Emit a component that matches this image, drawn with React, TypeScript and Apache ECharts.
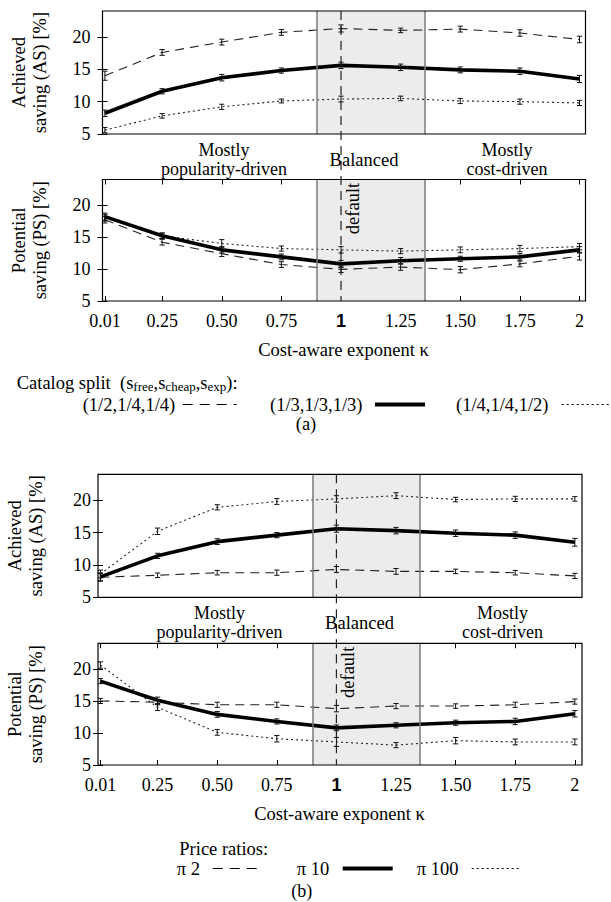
import { useEffect, useRef } from "react";
import * as echarts from "echarts";

// ---------- data ----------
const kappa = [0.01, 0.25, 0.5, 0.75, 1, 1.25, 1.5, 1.75, 2];
const kappaLabels = ["0.01", "0.25", "0.50", "0.75", "1", "1.25", "1.50", "1.75", "2"];
const yTickValues = [5, 10, 15, 20];
const yMin = 5;
const yMax = 24;
const balancedRange = [0.9, 1.35];
const defaultKappa = 1;

// (a) Catalog split
const asSplitHalf = [14.0, 17.6, 19.2, 20.7, 21.3, 21.0, 21.2, 20.6, 19.6];
const asSplitThird = [8.2, 11.6, 13.7, 14.8, 15.6, 15.3, 14.9, 14.7, 13.5];
const asSplitQuarter = [5.6, 7.8, 9.2, 10.1, 10.4, 10.5, 10.1, 10.0, 9.8];
const errAsSplitHalf = [0.7, 0.45, 0.45, 0.45, 0.55, 0.35, 0.45, 0.5, 0.5];
const errAsSplitThird = [0.5, 0.4, 0.5, 0.4, 0.5, 0.5, 0.45, 0.5, 0.55];
const errAsSplitQuarter = [0.4, 0.35, 0.4, 0.3, 0.45, 0.35, 0.4, 0.4, 0.4];

const psSplitHalf = [17.7, 14.2, 12.4, 10.7, 9.95, 10.3, 9.9, 10.8, 12.0];
const psSplitThird = [18.2, 15.2, 13.0, 11.9, 10.8, 11.3, 11.6, 11.9, 13.0];
const psSplitQuarter = [18.0, 15.2, 14.0, 13.2, 13.0, 12.8, 13.0, 13.2, 13.5];
const errPsSplitHalf = [0.5, 0.45, 0.45, 0.45, 0.5, 0.5, 0.5, 0.45, 0.6];
const errPsSplitThird = [0.55, 0.45, 0.5, 0.45, 0.55, 0.5, 0.4, 0.5, 0.5];
const errPsSplitQuarter = [0.5, 0.4, 0.6, 0.4, 0.5, 0.4, 0.45, 0.5, 0.5];

// (b) Price ratios
const asPi2 = [8.1, 8.4, 8.8, 8.8, 9.3, 9.0, 9.0, 8.8, 8.3];
const asPi10 = [8.15, 11.4, 13.6, 14.6, 15.6, 15.3, 14.9, 14.6, 13.5];
const asPi100 = [8.6, 15.2, 18.9, 19.8, 20.2, 20.7, 20.1, 20.2, 20.2];
const errAsPi2 = [0.6, 0.35, 0.35, 0.4, 0.45, 0.45, 0.35, 0.35, 0.4];
const errAsPi10 = [0.6, 0.4, 0.45, 0.4, 0.55, 0.5, 0.5, 0.5, 0.6];
const errAsPi100 = [0.6, 0.5, 0.4, 0.45, 0.5, 0.45, 0.35, 0.4, 0.35];

const psPi2 = [15.0, 14.8, 14.4, 14.4, 13.8, 14.2, 14.2, 14.4, 14.9];
const psPi10 = [18.1, 15.1, 12.9, 11.8, 10.8, 11.2, 11.6, 11.8, 13.0];
const psPi100 = [20.6, 14.0, 10.1, 9.1, 8.6, 8.1, 8.8, 8.6, 8.6];
const errPsPi2 = [0.4, 0.4, 0.4, 0.4, 0.5, 0.4, 0.35, 0.4, 0.4];
const errPsPi10 = [0.4, 0.5, 0.45, 0.4, 0.45, 0.4, 0.4, 0.5, 0.5];
const errPsPi100 = [0.5, 0.5, 0.45, 0.5, 0.7, 0.4, 0.5, 0.45, 0.45];

const legendA = ["(1/2,1/4,1/4)", "(1/3,1/3,1/3)", "(1/4,1/4,1/2)"];
const legendB = ["π 2", "π 10", "π 100"];

// ---------- styles ----------
const FONT = "'Liberation Serif', 'Times New Roman', serif";
const BOLD_FONT = "'Liberation Sans', Arial, sans-serif";
const INK = "#000";
const STYLES = {
  dashed: { width: 1.1, type: [9, 6] as number[], color: "#222" },
  solid: { width: 3.6, type: "solid" as const, color: "#000" },
  dotted: { width: 1.1, type: [2, 3] as number[], color: "#222" },
};

const grids = [
  { left: 102.5, top: 11, width: 483, height: 123 },
  { left: 102.5, top: 179.5, width: 483, height: 121.5 },
  { left: 98, top: 474.3, width: 484, height: 123 },
  { left: 98, top: 643.3, width: 484, height: 121.7 },
];
const xMaxes = [2.025, 2.025, 2.03, 2.03];
const xTicksShown = [false, true, false, true];
const yLabelMargin = [12, 12, 7, 7];

function fmtKappa(v: number) {
  let best = 0;
  for (let i = 1; i < kappa.length; i++) if (Math.abs(kappa[i] - v) < Math.abs(kappa[best] - v)) best = i;
  return kappa[best] === defaultKappa ? "{b|" + kappaLabels[best] + "}" : kappaLabels[best];
}

function errorRender(params: any, api: any) {
  const x = api.value(0);
  const lo = api.coord([x, api.value(1)]);
  const hi = api.coord([x, api.value(2)]);
  const w = 2.6;
  const style = { stroke: "#111", lineWidth: 1 };
  return {
    type: "group",
    children: [
      { type: "line", shape: { x1: lo[0], y1: lo[1], x2: hi[0], y2: hi[1] }, style },
      { type: "line", shape: { x1: lo[0] - w, y1: lo[1], x2: lo[0] + w, y2: lo[1] }, style },
      { type: "line", shape: { x1: hi[0] - w, y1: hi[1], x2: hi[0] + w, y2: hi[1] }, style },
    ],
  };
}

function buildOption() {
  const xAxis: any[] = [];
  const yAxis: any[] = [];
  grids.forEach((_, i) => {
    xAxis.push({
      type: "value",
      gridIndex: i,
      min: 0,
      max: xMaxes[i],
      position: "bottom",
      axisLine: { show: false },
      splitLine: { show: false },
      axisTick: { show: xTicksShown[i], inside: true, length: 5, customValues: kappa, lineStyle: { color: INK } },
      axisLabel: {
        show: xTicksShown[i],
        customValues: kappa,
        formatter: fmtKappa,
        margin: 11,
        fontSize: 18,
        fontFamily: FONT,
        color: INK,
        rich: { b: { fontSize: 18, fontWeight: "bold", fontFamily: BOLD_FONT, color: INK } },
      },
    });
  });
  grids.forEach((_, i) => {
    xAxis.push({
      type: "value",
      gridIndex: i,
      min: 0,
      max: xMaxes[i],
      position: "top",
      axisLine: { show: false },
      splitLine: { show: false },
      axisTick: { show: xTicksShown[i], inside: true, length: 5, customValues: kappa, lineStyle: { color: INK } },
      axisLabel: { show: false },
    });
  });
  grids.forEach((_, i) => {
    yAxis.push({
      type: "value",
      gridIndex: i,
      min: yMin,
      max: yMax,
      position: "left",
      axisLine: { show: false },
      splitLine: { show: false },
      axisTick: { show: true, inside: true, length: 5, customValues: yTickValues, lineStyle: { color: INK } },
      axisLabel: { customValues: yTickValues, margin: yLabelMargin[i], fontSize: 18, fontFamily: FONT, color: INK },
    });
  });
  grids.forEach((_, i) => {
    yAxis.push({
      type: "value",
      gridIndex: i,
      min: yMin,
      max: yMax,
      position: "right",
      axisLine: { show: false },
      splitLine: { show: false },
      axisTick: { show: true, inside: true, length: 5, customValues: yTickValues, lineStyle: { color: INK } },
      axisLabel: { show: false },
    });
  });

  const panels: { vals: number[]; errs: number[]; style: keyof typeof STYLES }[][] = [
    [
      { vals: asSplitHalf, errs: errAsSplitHalf, style: "dashed" },
      { vals: asSplitThird, errs: errAsSplitThird, style: "solid" },
      { vals: asSplitQuarter, errs: errAsSplitQuarter, style: "dotted" },
    ],
    [
      { vals: psSplitHalf, errs: errPsSplitHalf, style: "dashed" },
      { vals: psSplitThird, errs: errPsSplitThird, style: "solid" },
      { vals: psSplitQuarter, errs: errPsSplitQuarter, style: "dotted" },
    ],
    [
      { vals: asPi2, errs: errAsPi2, style: "dashed" },
      { vals: asPi10, errs: errAsPi10, style: "solid" },
      { vals: asPi100, errs: errAsPi100, style: "dotted" },
    ],
    [
      { vals: psPi2, errs: errPsPi2, style: "dashed" },
      { vals: psPi10, errs: errPsPi10, style: "solid" },
      { vals: psPi100, errs: errPsPi100, style: "dotted" },
    ],
  ];

  const series: any[] = [];
  panels.forEach((panel, gi) => {
    series.push({
      type: "line",
      xAxisIndex: gi,
      yAxisIndex: gi,
      data: [],
      z: 1,
      silent: true,
      markArea: {
        silent: true,
        itemStyle: { color: "#ececec" },
        data: [[{ xAxis: balancedRange[0] }, { xAxis: balancedRange[1] }]],
      },
      markLine: {
        silent: true,
        symbol: "none",
        label: { show: false },
        lineStyle: { color: "#7a7a7a", width: 1.5, type: "solid" },
        data: balancedRange.map((v) => ({ xAxis: v })),
      },
    });
    panel.forEach((s) => {
      const st = STYLES[s.style];
      series.push({
        type: "line",
        xAxisIndex: gi,
        yAxisIndex: gi,
        data: kappa.map((k, i) => [k, s.vals[i]]),
        symbol: "none",
        z: s.style === "solid" ? 4 : 3,
        lineStyle: { color: st.color, width: st.width, type: st.type },
      });
      series.push({
        type: "custom",
        xAxisIndex: gi,
        yAxisIndex: gi,
        z: 5,
        renderItem: errorRender,
        encode: { x: 0, y: [1, 2] },
        data: kappa.map((k, i) => [k, s.vals[i] - s.errs[i], s.vals[i] + s.errs[i]]),
      });
    });
  });

  return {
    animation: false,
    backgroundColor: "#fff",
    textStyle: { fontFamily: FONT },
    grid: grids.map((g) => ({ ...g, show: true, z: 10, borderColor: INK, borderWidth: 1.2, backgroundColor: "transparent" })),
    xAxis,
    yAxis,
    series,
  };
}

function txt(text: string, x: number, y: number, extra: any = {}, styleExtra: any = {}) {
  return {
    type: "text",
    x,
    y,
    z: 20,
    silent: true,
    ...extra,
    style: {
      text,
      fill: INK,
      fontSize: 18.5,
      fontFamily: FONT,
      align: "center",
      verticalAlign: "middle",
      ...styleExtra,
    },
  };
}

function seg(x1: number, x2: number, y: number, width: number, dash: any) {
  return {
    type: "line",
    z: 20,
    silent: true,
    shape: { x1, y1: y, x2, y2: y },
    style: { stroke: "#000", lineWidth: width, lineDash: dash },
  };
}

export default function App() {
  const ref = useRef<HTMLDivElement>(null);
  useEffect(() => {
    const chart = echarts.init(ref.current!, null, { renderer: "svg", width: 611, height: 902 });
    chart.setOption(buildOption());

    const graphic: any[] = [];
    const figs = [
      { top: 0, bottom: 1, ytitle: [19, 40], t1: "Achieved\nsaving (AS) [%]", t2: "Potential\nsaving (PS) [%]" },
      { top: 2, bottom: 3, ytitle: [14.5, 35.5], t1: "Achieved\nsaving (AS) [%]", t2: "Potential\nsaving (PS) [%]" },
    ];
    figs.forEach((f) => {
      const pTop = chart.convertToPixel({ gridIndex: f.top }, [defaultKappa, yMax]) as number[];
      const pTopBottom = chart.convertToPixel({ gridIndex: f.top }, [0, yMin]) as number[];
      const pBot = chart.convertToPixel({ gridIndex: f.bottom }, [defaultKappa, yMin]) as number[];
      const pBotTop = chart.convertToPixel({ gridIndex: f.bottom }, [0, yMax]) as number[];
      const lx = pTop[0];
      graphic.push({
        type: "line",
        z: 15,
        silent: true,
        shape: { x1: lx, y1: pTop[1], x2: lx, y2: pBot[1] },
        style: { stroke: "#222", lineWidth: 1.2, lineDash: [9, 6] },
      });
      graphic.push(txt("default", lx + 12, pBotTop[1] + 29, { rotation: Math.PI / 2 }));
      const g = grids[f.top];
      const off = g.left - 102.5;
      const yb = pTopBottom[1];
      graphic.push(txt("Mostly\npopularity-driven", 224 + off, yb + 25, {}, { lineHeight: 19, fontSize: 18 }));
      graphic.push(txt("Balanced", 364 + off, yb + 26));
      graphic.push(txt("Mostly\ncost-driven", 507 + off, yb + 25, {}, { lineHeight: 19, fontSize: 18 }));
      const cTop = (g.top + g.top + g.height) / 2;
      const gb = grids[f.bottom];
      const cBot = (gb.top + gb.top + gb.height) / 2;
      const cx = (f.ytitle[0] + f.ytitle[1]) / 2;
      graphic.push(txt(f.t1, cx, cTop, { rotation: Math.PI / 2 }, { lineHeight: 21 }));
      graphic.push(txt(f.t2, cx, cBot, { rotation: Math.PI / 2 }, { lineHeight: 21 }));
      const xc = gb.left + gb.width / 2;
      graphic.push(txt("Cost-aware exponent κ", xc - 0.5, pBot[1] + 48.5));
    });

    // legend (a)
    graphic.push(
      txt("Catalog split  (s{sub|free},s{sub|cheap},s{sub|exp}):", 16.7, 383, {}, {
        align: "left",
        lineHeight: 19,
        rich: { sub: { fontSize: 13, fontFamily: FONT, fill: INK, lineHeight: 10, verticalAlign: "bottom" } },
      })
    );
    graphic.push(txt(legendA[0], 82.7, 405, {}, { align: "left" }));
    graphic.push(seg(182.7, 236.7, 404.5, 1.1, [10, 7]));
    graphic.push(txt(legendA[1], 270, 405, {}, { align: "left" }));
    graphic.push(seg(375, 425, 404.5, 4, null));
    graphic.push(txt(legendA[2], 456, 405, {}, { align: "left" }));
    graphic.push(seg(561.7, 610, 404.5, 1.1, [2, 3]));
    graphic.push(txt("(a)", 306, 424));

    // legend (b)
    graphic.push(txt("Price ratios:", 179.3, 849.3, {}, { align: "left" }));
    graphic.push(txt(legendB[0], 176.7, 869.3, {}, { align: "left" }));
    graphic.push(seg(212.7, 263.3, 868.5, 1.1, [10, 7]));
    graphic.push(txt(legendB[1], 296.7, 869.3, {}, { align: "left" }));
    graphic.push(seg(342.7, 392.7, 868.5, 4, null));
    graphic.push(txt(legendB[2], 416.7, 869.3, {}, { align: "left" }));
    graphic.push(seg(471.7, 520.5, 868.5, 1.1, [2, 3]));
    graphic.push(txt("(b)", 301.7, 890.5, {}, { fontSize: 18 }));

    chart.setOption({ graphic });
    return () => chart.dispose();
  }, []);
  return (
    <div
      ref={ref}
      style={{ position: "fixed", left: 0, top: 0, width: 611, height: 902, background: "#fff" }}
    />
  );
}
